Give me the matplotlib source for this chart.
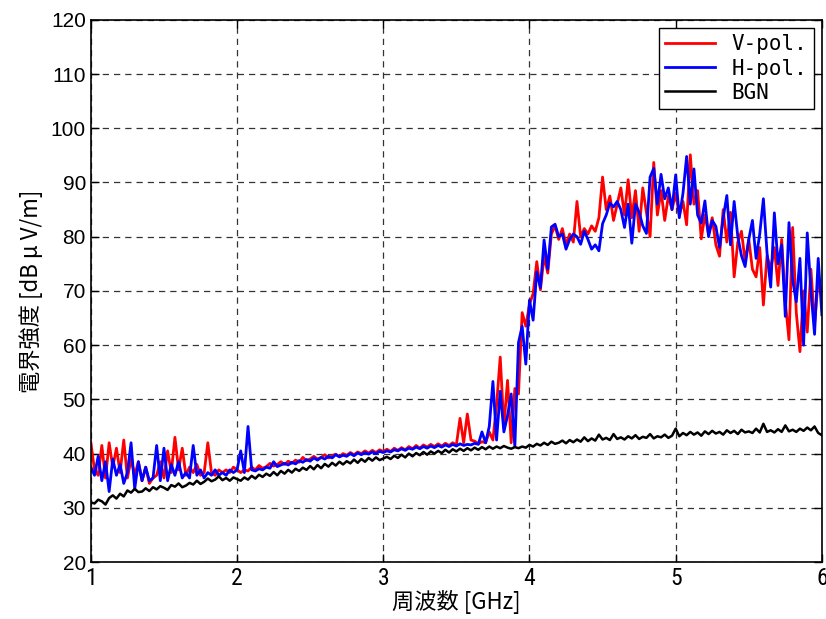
import numpy as np
import matplotlib
matplotlib.use("Agg")
import matplotlib.pyplot as plt
from matplotlib import font_manager

# frequency sampling [GHz], 0.025 GHz step
freq = np.linspace(1.0, 6.0, 201)

# V-pol (red) [dBuV/m]
v_pol = [
    42.0, 37.0, 36.0, 41.5, 35.5, 42.0, 37.5, 41.0, 36.5, 42.5,
    35.5, 39.0, 36.0, 38.5, 35.0, 37.5, 34.5, 35.5, 36.0, 38.5,
    35.5, 40.5, 36.5, 43.0, 37.0, 41.0, 36.0, 37.5, 36.5, 38.0,
    36.0, 36.5, 42.0, 36.5, 36.0, 37.0, 36.5, 37.0, 36.5, 37.5,
    37.0,
    36.5, 37.0, 36.8, 37.5, 37.0, 37.8, 37.3, 37.6, 38.2, 37.7,
    38.0, 38.5, 38.0, 38.6, 38.2, 38.8, 38.4, 39.3, 38.7, 39.0,
    39.5, 39.0, 39.3, 39.8, 39.2, 39.6, 39.9, 39.4, 40.0, 39.7,
    40.2, 39.8, 40.3, 40.0, 40.5, 40.1, 40.6, 40.2, 40.7, 40.4,
    40.8, 40.4, 41.0, 40.6, 41.1, 40.7, 41.3, 40.9, 41.5, 41.0,
    41.6, 41.2, 41.7, 41.3, 41.8, 41.4, 41.9, 41.5, 42.0, 41.6,
    46.5, 42.0, 47.3, 42.5, 42.3, 41.8, 42.2, 42.0, 44.0, 42.5,
    49.0, 57.8, 45.0, 53.5, 42.0, 52.0, 51.0, 66.0, 63.5, 67.5,
    69.5, 75.4, 70.2, 76.5, 73.3, 80.5, 82.0, 79.5, 81.5, 78.5,
    80.5, 79.0, 86.5, 80.0, 81.5, 80.5, 82.0, 81.0, 83.5, 91.0,
    85.0, 87.5, 83.0, 86.0, 89.0, 84.0, 90.5, 83.5, 88.5, 81.0,
    89.0, 84.5, 80.0, 93.7, 84.0, 88.5, 83.0, 87.5, 85.0, 88.0,
    84.0, 86.5, 82.2, 95.1, 86.0, 88.5, 79.6, 84.0, 80.5, 83.5,
    78.5, 76.4, 85.0, 79.0, 84.5, 72.6, 79.0, 81.0, 75.5, 79.5,
    74.0, 72.6, 78.0, 67.4, 76.5, 74.0, 78.0, 71.0, 79.5, 68.0,
    61.0, 81.7, 66.0, 58.8, 70.0, 62.4, 74.0, 64.0, 72.0, 69.0,
]

# H-pol (blue) [dBuV/m]
h_pol = [
    37.5, 36.0, 39.5, 35.0, 38.5, 33.0, 39.0, 36.0, 38.0, 34.5,
    36.5, 42.0, 33.5, 38.5, 35.0, 37.5, 35.0, 35.5, 41.5, 35.0,
    41.0, 35.0, 38.0, 36.0, 38.5, 35.5, 36.5, 35.5, 41.5, 36.0,
    37.0, 35.5, 36.5, 36.0, 37.0, 36.0, 36.5, 36.0, 37.0, 36.5,
    37.0,
    40.5, 36.5, 45.0, 37.0, 36.8, 37.2, 37.0, 37.5, 37.3, 38.5,
    37.6, 37.9, 38.2, 37.9, 38.4, 38.1, 38.7, 38.4, 38.9, 38.6,
    39.2, 38.8, 39.3, 39.0, 39.5, 39.2, 39.8, 39.4, 39.7, 39.5,
    40.0, 39.6, 40.1, 39.8, 40.2, 39.9, 40.3, 40.0, 40.4, 40.2,
    40.5, 40.3, 40.7, 40.5, 40.9, 40.6, 41.0, 40.8, 41.2, 40.9,
    41.3, 41.0, 41.4, 41.1, 41.5, 41.2, 41.6, 41.3, 41.7, 41.4,
    41.8, 41.5, 41.7, 41.6, 41.9, 41.7, 44.0, 42.0, 45.0, 53.3,
    42.5, 51.5, 44.0, 47.0, 51.0, 41.3, 60.5, 63.5, 56.5, 68.3,
    64.6, 73.5, 70.6, 79.4, 74.0, 81.8, 82.3, 80.0, 80.5, 77.7,
    79.5, 80.5, 80.0, 78.6, 81.0, 79.5, 77.7, 78.5, 77.4, 82.4,
    84.0, 86.2, 85.5, 86.5, 85.0, 81.7, 86.0, 78.8, 86.0, 84.5,
    82.0, 80.6, 91.0, 92.6, 86.0, 91.5, 87.0, 89.0, 85.0, 91.4,
    83.5, 88.0, 94.8, 86.0, 92.5, 84.0, 82.5, 86.6, 80.0, 83.0,
    81.9, 78.0, 83.5, 87.6, 78.5, 86.5, 80.0, 76.5, 74.5, 79.5,
    83.0, 76.0, 80.5, 87.0, 77.0, 70.7, 84.4, 75.0, 78.5, 65.3,
    82.6, 72.0, 68.0, 76.0, 60.0, 80.7, 70.0, 62.0, 76.0, 65.6,
]

# background noise (black) [dBuV/m]
bgn = [
    31.0, 30.8, 31.5, 31.2, 30.6, 31.8, 32.3, 31.7, 32.6, 32.1,
    33.2, 32.8, 33.5, 32.9, 33.0, 33.6, 33.1, 33.8, 33.4, 34.0,
    33.7, 33.3, 34.2, 33.9, 34.5, 33.8, 34.1, 34.6, 34.3, 35.0,
    34.4, 34.8, 35.4, 34.9, 35.2, 35.8, 35.1, 35.5, 35.0, 35.6,
    35.3,
    35.0, 35.6, 35.2, 35.9, 35.4, 36.1, 35.7, 36.3, 35.9, 36.6,
    36.0, 36.8, 36.3, 37.0, 36.5, 37.2, 36.8, 37.4, 37.0, 37.7,
    37.1, 37.9, 37.3, 38.1, 37.6, 38.3, 37.8, 38.5, 38.0, 38.6,
    38.2, 38.9, 38.3, 39.0, 38.5, 39.2, 38.7, 39.3, 38.8, 39.1,
    39.4, 39.0, 39.6, 39.2, 39.8, 39.3, 40.0, 39.5, 40.1, 39.7,
    40.3, 39.8, 40.4, 40.0, 40.5, 40.1, 40.7, 40.2, 40.8, 40.4,
    40.9, 40.5, 41.0, 40.6, 41.1, 40.7, 41.2, 40.8, 41.3, 40.9,
    41.3, 41.0, 41.4, 41.1, 40.9, 41.2, 41.0, 41.3, 41.1, 41.6,
    41.3, 41.8, 41.5, 42.0, 41.6, 42.2, 41.8, 42.0, 42.4, 41.9,
    42.5, 42.1, 42.6, 42.2, 43.0, 42.3, 42.8, 42.4, 43.5, 42.6,
    42.9, 42.5, 43.6, 42.7, 43.0, 42.6, 43.2, 42.8, 43.4, 42.7,
    43.1, 42.9, 43.6, 42.8, 43.2, 43.0, 43.5, 42.9, 43.3, 44.6,
    43.2, 43.8, 43.4, 44.0, 43.5, 43.9, 43.3, 44.1, 43.6, 44.2,
    43.7, 44.0, 43.5, 44.3, 43.8, 44.2, 43.6, 44.4, 43.9, 44.1,
    43.8, 44.6, 43.9, 45.5, 44.0, 44.3, 43.9, 44.5, 44.0, 45.2,
    44.1, 44.4, 44.0, 44.6, 44.2, 44.8, 44.3, 45.0, 43.8, 43.4,
]

x_ticks = [1, 2, 3, 4, 5, 6]
y_ticks = list(range(20, 121, 10))

installed = {f.name for f in font_manager.fontManager.ttflist}
narrow = 'Noto Sans CJK JP'
for cand in ['Liberation Sans Narrow', 'Roboto Condensed', 'Open Sans Condensed']:
    if cand in installed:
        narrow = cand
        break
jp = ['Noto Sans CJK JP', 'DejaVu Sans']

fig = plt.figure(figsize=(8.26, 6.19), dpi=100)
ax = fig.add_axes([0.110, 0.092, 0.885, 0.876])

ax.plot(freq, v_pol, color='red', lw=2.0, label='V-pol.')
ax.plot(freq, h_pol, color='blue', lw=2.0, label='H-pol.')
ax.plot(freq, bgn, color='black', lw=1.8, label='BGN')

ax.set_xlim(1, 6)
ax.set_ylim(20, 120)
ax.set_xticks(x_ticks)
ax.set_yticks(y_ticks)
ax.grid(True, color='#333333', linestyle=(0, (5, 4)), linewidth=0.9)
ax.tick_params(direction='in', top=True, right=True, length=6, width=1)
for lab in ax.get_xticklabels():
    lab.set_fontfamily(narrow)
    lab.set_fontsize(17)
for lab in ax.get_yticklabels():
    lab.set_fontfamily('Liberation Sans')
    lab.set_fontsize(15)
for s in ax.spines.values():
    s.set_linewidth(1.2)

ax.set_xlabel('周波数 [GHz]', family=jp, fontsize=16, labelpad=0)
ax.set_ylabel('電界強度 [dB μ V/m]', family=jp, fontsize=16, labelpad=6)

leg = ax.legend(loc='upper right', prop={'family': 'DejaVu Sans Mono', 'size': 15},
                fancybox=False, edgecolor='black', framealpha=1,
                handlelength=2.4, handletextpad=0.8, borderaxespad=0.4,
                labelspacing=0.2, borderpad=0.3)
leg.get_frame().set_linewidth(1.0)

fig.savefig('out.png', dpi=100)
